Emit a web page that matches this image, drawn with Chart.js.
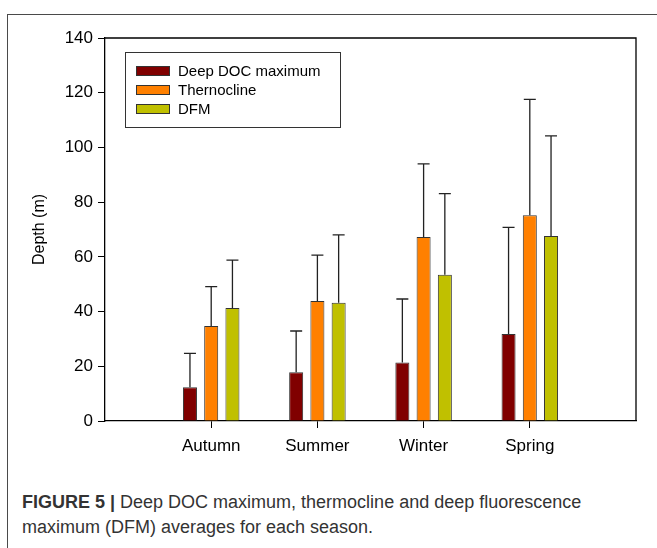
<!DOCTYPE html>
<html>
<head>
<meta charset="utf-8">
<script src="https://cdn.jsdelivr.net/npm/chart.js@4/dist/chart.umd.min.js"></script>
<style>
  body { margin: 0; background: #fff; font-family: "Liberation Sans", Arial, sans-serif; }
  #page { position: relative; width: 657px; height: 548px; overflow: hidden; }
  #frame { position: absolute; left: 7px; top: 14px; width: 660px; height: 560px;
           border-top: 1.5px solid #4a4a4a; border-left: 1.5px solid #4a4a4a; }
  #chart { position: absolute; left: 0; top: 0; }
  #caption { position: absolute; left: 22px; top: 490px; width: 620px; font-size: 18px;
             line-height: 25px; color: #333; }
  #caption b { color: #333; }
</style>
</head>
<body>
<div id="page">
  <div id="frame"></div>
  <canvas id="chart" width="657" height="470"></canvas>
  <div id="caption"><b>FIGURE 5 |</b> Deep DOC maximum, thermocline and deep fluorescence maximum (DFM) averages for each season.</div>
</div>
<script>
// Seasons on the x axis
const seasons = ['Autumn', 'Summer', 'Winter', 'Spring'];

// Mean depths (m)
const deepDoc = [12.3, 17.8, 21.4, 31.8];
const thermocline = [34.7, 43.9, 67.3, 75.2];
const dfm = [41.3, 43.2, 53.5, 67.6];

// Upper end of the error bars (m)
const deepDocUpper = [24.7, 32.9, 44.6, 70.8];
const thermoclineUpper = [49.1, 60.6, 94.0, 117.6];
const dfmUpper = [58.8, 68.0, 83.1, 104.2];

const yTicks = [0, 20, 40, 60, 80, 100, 120, 140];

// empty slot before and after so the groups sit at 1..4 of 0..5
const labels = [''].concat(seasons, ['']);
const pad = arr => [null].concat(arr, [null]);

const FONT = '"Liberation Sans", Arial, sans-serif';

const errorBars = {
    id: 'errorBars',
    afterDatasetsDraw(chart) {
        const ctx = chart.ctx;
        const y = chart.scales.y;
        ctx.save();
        ctx.strokeStyle = '#222';
        ctx.lineWidth = 1.3;
        chart.data.datasets.forEach((ds, i) => {
            const meta = chart.getDatasetMeta(i);
            meta.data.forEach((bar, j) => {
                const up = ds.upper[j];
                if (up == null) return;
                const top = y.getPixelForValue(up);
                ctx.beginPath();
                ctx.moveTo(bar.x, bar.y);
                ctx.lineTo(bar.x, top);
                ctx.moveTo(bar.x - 6, top);
                ctx.lineTo(bar.x + 6, top);
                ctx.stroke();
            });
        });
        ctx.restore();
    }
};

const frameAndLegend = {
    id: 'frameAndLegend',
    afterDraw(chart) {
        const ctx = chart.ctx;
        const a = chart.chartArea;
        ctx.save();
        // top and right edges of the plot box
        ctx.strokeStyle = '#000';
        ctx.lineWidth = 1.3;
        ctx.beginPath();
        ctx.moveTo(a.left, a.top);
        ctx.lineTo(a.right, a.top);
        ctx.lineTo(a.right, a.bottom);
        ctx.stroke();

        // legend box
        ctx.strokeStyle = '#333';
        ctx.lineWidth = 1;
        ctx.strokeRect(125.5, 52.5, 215, 75);
        ctx.font = '15px ' + FONT;
        ctx.textBaseline = 'middle';
        ctx.fillStyle = '#000';
        chart.data.datasets.forEach((ds, i) => {
            const cy = 71 + i * 19;
            ctx.fillStyle = ds.backgroundColor;
            ctx.fillRect(136, cy - 5, 34, 10);
            ctx.strokeStyle = '#333';
            ctx.strokeRect(136.5, cy - 4.5, 33, 9);
            ctx.fillStyle = '#000';
            ctx.fillText(ds.label, 178, cy + 1);
        });
        ctx.restore();
    }
};

new Chart(document.getElementById('chart'), {
    type: 'bar',
    data: {
        labels: labels,
        datasets: [
            { label: 'Deep DOC maximum', data: pad(deepDoc), upper: pad(deepDocUpper), backgroundColor: '#800000' },
            { label: 'Thernocline', data: pad(thermocline), upper: pad(thermoclineUpper), backgroundColor: '#ff8000' },
            { label: 'DFM', data: pad(dfm), upper: pad(dfmUpper), backgroundColor: '#c0c000' }
        ].map(d => Object.assign(d, {
            borderColor: '#333',
            borderWidth: 1,
            categoryPercentage: 0.6,
            barPercentage: 0.66
        }))
    },
    options: {
        responsive: false,
        animation: false,
        layout: { padding: { top: 38, right: 21, left: 30, bottom: 0 } },
        plugins: {
            legend: { display: false },
            tooltip: { enabled: false }
        },
        scales: {
            x: {
                offset: false,
                grid: {
                    offset: false,
                    drawOnChartArea: false,
                    drawTicks: true,
                    tickLength: 7,
                    tickColor: c => (c.index === 0 || c.index === labels.length - 1) ? 'rgba(0,0,0,0)' : '#000'
                },
                border: { display: true, color: '#000', width: 1.3 },
                ticks: { color: '#000', font: { family: FONT, size: 17 }, padding: 8, maxRotation: 0, autoSkip: false },
                afterFit: s => { s.height = 49; }
            },
            y: {
                min: 0,
                max: 140,
                afterBuildTicks: s => { s.ticks = yTicks.map(v => ({ value: v })); },
                grid: { drawOnChartArea: false, drawTicks: true, tickLength: 7, tickColor: '#000' },
                border: { display: true, color: '#000', width: 1.3 },
                ticks: { color: '#000', font: { family: FONT, size: 17 }, padding: 5 },
                title: { display: true, text: 'Depth (m)', color: '#000', font: { family: FONT, size: 16 }, padding: { top: 0, bottom: 8 } },
                afterFit: s => { s.width = 75; }
            }
        }
    },
    plugins: [errorBars, frameAndLegend]
});
</script>
</body>
</html>
